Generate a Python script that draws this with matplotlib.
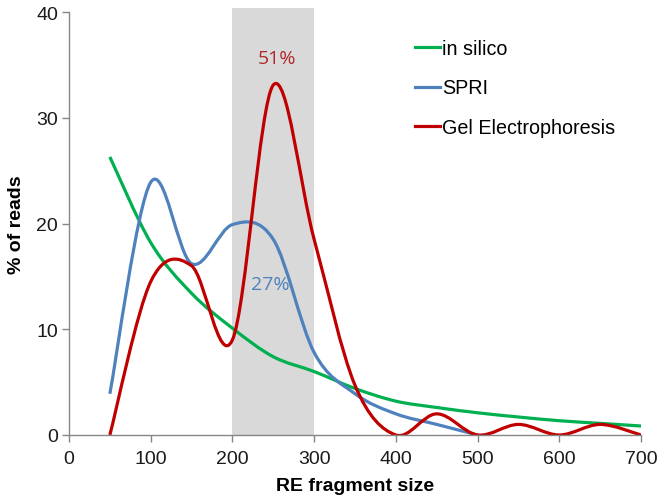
import numpy as np
import matplotlib
matplotlib.use("Agg")
import matplotlib.pyplot as plt
from matplotlib.path import Path
from matplotlib.patches import PathPatch

####### DATA ######
Fragment_Size = [50, 100, 150, 200, 250, 300, 350, 400, 450, 500, 550, 600, 650, 700]
In_Silico = [26.3, 18.2, 13.4, 10.1, 7.4, 6.0, 4.4, 3.2, 2.6, 2.1, 1.7, 1.35, 1.1, 0.85]
SPRI_Size = [50, 100, 150, 200, 250, 300, 350, 400, 450, 500]
SPRI = [3.9, 23.9, 16.2, 19.9, 18.5, 7.8, 3.9, 2.0, 1.0, 0.0]
Gel = [0, 14.5, 16.0, 9.0, 33.1, 18.5, 4.7, 0, 2.0, 0, 1.0, 0, 1.0, 0]

Labels = ['in silico', 'SPRI', 'Gel Electrophoresis']
Colors = ['#00b050', '#4f81bd', '#c00000']

plt.rcParams['font.family'] = ['Liberation Sans', 'DejaVu Sans']


# Excel-like smoothed line (Catmull-Rom as cubic Bezier)
def smooth_line(ax, xs, ys, color):
    pts = np.column_stack([xs, ys]).astype(float)
    n = len(pts)
    verts = [pts[0]]
    codes = [Path.MOVETO]
    for i in range(n - 1):
        p0 = pts[i - 1] if i > 0 else pts[i]
        p1 = pts[i]
        p2 = pts[i + 1]
        p3 = pts[i + 2] if i + 2 < n else pts[i + 1]
        verts += [p1 + (p2 - p0) / 6, p2 - (p3 - p1) / 6, p2]
        codes += [Path.CURVE4] * 3
    patch = PathPatch(Path(verts, codes), fill=False, edgecolor=color,
                      linewidth=2.3, capstyle='butt', joinstyle='round')
    ax.add_patch(patch)


####### PLOT #######
fig = plt.figure(figsize=(6.64, 5.02), dpi=100)
ax = fig.add_axes([0.1039, 0.1315, 0.8615, 0.8425])

ax.axvspan(200, 300, ymin=0, ymax=1.01, color='#d9d9d9', linewidth=0,
           clip_on=False, zorder=0)

smooth_line(ax, Fragment_Size, In_Silico, Colors[0])
smooth_line(ax, SPRI_Size, SPRI, Colors[1])
smooth_line(ax, Fragment_Size, Gel, Colors[2])

# legend proxies
for lab, col in zip(Labels, Colors):
    ax.plot([], [], color=col, linewidth=2.3, label=lab)

ax.text(255, 35.7, '51%', color='#b0282a', fontsize=14, family='Open Sans',
        ha='center', va='center')
ax.text(246, 14.3, '27%', color='#4f81bd', fontsize=14, family='Open Sans',
        ha='center', va='center')

ax.set_xlim(0, 700)
ax.set_ylim(0, 40)
ax.set_xticks(range(0, 701, 100))
ax.set_yticks(range(0, 41, 10))

for s in ['top', 'right']:
    ax.spines[s].set_visible(False)
for s in ['left', 'bottom']:
    ax.spines[s].set_color('#868686')
    ax.spines[s].set_linewidth(1)
ax.tick_params(axis='both', colors='#868686', labelcolor='#1a1a1a',
               labelsize=14, length=5, width=1, direction='out')
ax.tick_params(axis='x', pad=6)
ax.tick_params(axis='y', pad=3)

ax.set_xlabel('RE fragment size', fontsize=14, fontweight='bold', labelpad=7)
ax.set_ylabel('% of reads', fontsize=14, fontweight='bold', labelpad=8)

ax.legend(loc='upper left', bbox_to_anchor=(0.605, 0.937), frameon=False,
          fontsize=14.2, handlelength=1.25, handletextpad=0.1,
          labelspacing=1.05, borderpad=0, borderaxespad=0)

fig.savefig("out.png", dpi=100)
